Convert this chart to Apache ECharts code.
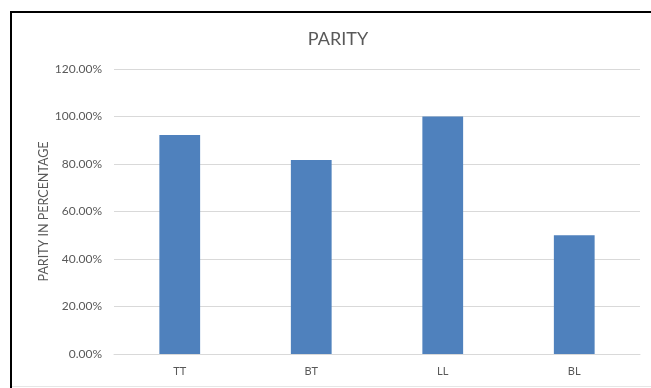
<!DOCTYPE html>
<html><head><meta charset="utf-8">
<script src="https://cdn.jsdelivr.net/npm/echarts@6/dist/echarts.min.js"></script>
<style>
html,body{margin:0;padding:0;background:#fff;}
#wrap{position:absolute;left:0;top:0;width:651px;height:388px;}
#chart{position:absolute;left:0;top:0;width:651px;height:388px;}
#bt{position:absolute;left:10px;top:11px;width:641px;height:2px;background:#000;}
#bl{position:absolute;left:10px;top:11px;width:2px;height:377px;background:#000;}
#bb{position:absolute;left:12px;top:386px;width:639px;height:1px;background:#e6e6e6;}
</style></head>
<body><div id="wrap"><div id="chart"></div><div id="bt"></div><div id="bl"></div><div id="bb"></div></div>
<script>
const categories = ['TT', 'BT', 'LL', 'BL'];
const parityValues = [92.2, 81.7, 100, 50];
const yTicks = { min: 0, max: 120, interval: 20 };

const chart = echarts.init(document.getElementById('chart'));
const font = 'Lato, "Open Sans", sans-serif';
chart.setOption({
  animation: false,
  textStyle: { fontFamily: font },
  title: {
    text: 'PARITY', left: 333, top: 25, textAlign: 'center',
    textStyle: { fontSize: 18, fontWeight: 'normal', color: '#595959', fontFamily: font }
  },
  grid: { left: 114, right: 11, top: 69, bottom: 34 },
  xAxis: {
    type: 'category', data: categories,
    axisTick: { show: false },
    axisLine: { lineStyle: { color: '#d9d9d9' } },
    axisLabel: { color: '#595959', fontSize: 11, margin: 12, fontFamily: font }
  },
  yAxis: {
    type: 'value', min: yTicks.min, max: yTicks.max, interval: yTicks.interval,
    name: 'PARITY IN PERCENTAGE', nameLocation: 'middle', nameRotate: 90, nameGap: 64,
    nameMoveOverlap: false,
    nameTextStyle: { fontSize: 12.5, color: '#595959', fontFamily: font },
    axisLine: { show: false }, axisTick: { show: false },
    axisLabel: { color: '#595959', fontSize: 12, margin: 12, fontFamily: font,
      formatter: v => v.toFixed(2) + '%' },
    splitLine: { lineStyle: { color: '#d9d9d9', width: 1 } }
  },
  series: [{
    type: 'bar', data: parityValues, barWidth: '31%',
    itemStyle: { color: '#4f81bd' }
  }]
});
</script></body></html>
